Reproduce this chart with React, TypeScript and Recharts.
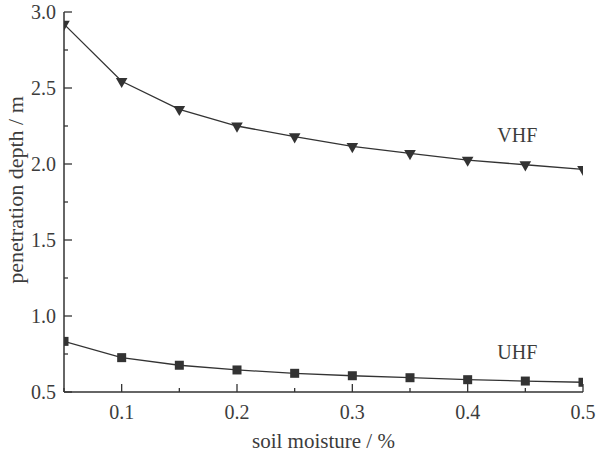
import React from 'react';
import { LineChart, Line, XAxis, YAxis, ReferenceDot } from 'recharts';

const moisture = [0.05, 0.1, 0.15, 0.2, 0.25, 0.3, 0.35, 0.4, 0.45, 0.5];
const vhf = [2.92, 2.544, 2.36, 2.25, 2.18, 2.116, 2.07, 2.026, 1.995, 1.965];
const uhf = [0.833, 0.726, 0.676, 0.645, 0.623, 0.607, 0.594, 0.581, 0.572, 0.564];

const xTicks = [0.05, 0.1, 0.15, 0.2, 0.25, 0.3, 0.35, 0.4, 0.45, 0.5];
const xMajor = [0.1, 0.2, 0.3, 0.4, 0.5];
const yTicks = [0.5, 0.75, 1.0, 1.25, 1.5, 1.75, 2.0, 2.25, 2.5, 2.75, 3.0];
const yMajor = [0.5, 1.0, 1.5, 2.0, 2.5, 3.0];

const seriesLabels = [
  { name: 'VHF', x: 0.443, y: 2.19 },
  { name: 'UHF', x: 0.443, y: 0.763 },
];

const data = moisture.map((m, i) => ({ m, vhf: vhf[i], uhf: uhf[i] }));

const INK = '#333333';
const TEXT = '#3c3c3c';
const FONT = 'Liberation Serif';

const isMajor = (v: number, list: number[]) => list.some((t) => Math.abs(t - v) < 1e-9);

const XTick = (props: any) => {
  const { x, y, payload } = props;
  const major = isMajor(payload.value, xMajor);
  return (
    <g>
      <line x1={x} x2={x} y1={y} y2={y - (major ? 8 : 4)} stroke={INK} strokeWidth={1.3} />
      {major && (
        <text x={x} y={y + 27} textAnchor="middle" fontSize={20} style={{ fontFamily: FONT }} fill={TEXT}>
          {payload.value.toFixed(1)}
        </text>
      )}
    </g>
  );
};

const YTick = (props: any) => {
  const { x, y, payload } = props;
  const major = isMajor(payload.value, yMajor);
  return (
    <g>
      <line x1={x} x2={x + (major ? 8 : 4)} y1={y} y2={y} stroke={INK} strokeWidth={1.3} />
      {major && (
        <text x={x - 8} y={y + 7} textAnchor="end" fontSize={20} style={{ fontFamily: FONT }} fill={TEXT}>
          {payload.value.toFixed(1)}
        </text>
      )}
    </g>
  );
};

const TriDot = (props: any) => {
  const { cx, cy } = props;
  if (cx == null || cy == null) return null;
  return (
    <polygon
      points={`${cx - 5.8},${cy - 3.4} ${cx + 5.8},${cy - 3.4} ${cx},${cy + 6.8}`}
      fill={INK}
    />
  );
};

const SqDot = (props: any) => {
  const { cx, cy } = props;
  if (cx == null || cy == null) return null;
  return <rect x={cx - 4.5} y={cy - 4.5} width={9} height={9} fill={INK} />;
};

export default function App() {
  return (
    <div style={{ position: 'absolute', left: 0, top: 0, background: '#fff', fontFamily: FONT }}>
      <LineChart
        width={597}
        height={459}
        data={data}
        margin={{ top: 12, right: 14, bottom: 0, left: 0 }}
        style={{ fontFamily: FONT }}
      >
        <XAxis
          dataKey="m"
          type="number"
          domain={[0.05, 0.5]}
          ticks={xTicks}
          interval={0}
          allowDataOverflow
          height={67}
          tickSize={0}
          tickMargin={0}
          tickLine={false}
          stroke={INK}
          strokeWidth={1.5}
          tick={<XTick />}
          label={{
            value: 'soil moisture / %',
            position: 'insideBottom',
            offset: 11,
            fontSize: 21,
            fontFamily: FONT,
            style: { fontFamily: FONT },
            fill: TEXT,
          }}
        />
        <YAxis
          type="number"
          domain={[0.5, 3.0]}
          ticks={yTicks}
          interval={0}
          allowDataOverflow
          width={64}
          tickSize={0}
          tickMargin={0}
          tickLine={false}
          stroke={INK}
          strokeWidth={1.5}
          tick={<YTick />}
          label={{
            value: 'penetration depth / m',
            angle: -90,
            position: 'center',
            dx: -17,
            dy: -12,
            fontSize: 22,
            fontFamily: FONT,
            style: { fontFamily: FONT },
            fill: TEXT,
          }}
        />
        <Line
          dataKey="vhf"
          stroke={INK}
          strokeWidth={1.3}
          dot={<TriDot />}
          isAnimationActive={false}
        />
        <Line
          dataKey="uhf"
          stroke={INK}
          strokeWidth={1.3}
          dot={<SqDot />}
          isAnimationActive={false}
        />
        {seriesLabels.map((s) => (
          <ReferenceDot
            key={s.name}
            x={s.x}
            y={s.y}
            r={0}
            fill="none"
            stroke="none"
            label={{
              value: s.name,
              position: 'center',
              fontSize: 20,
              fontFamily: FONT,
              style: { fontFamily: FONT },
              fill: TEXT,
            }}
          />
        ))}
      </LineChart>
    </div>
  );
}
